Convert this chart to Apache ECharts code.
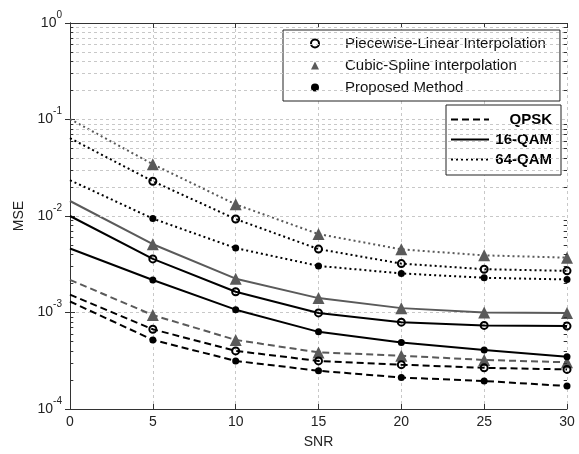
<!DOCTYPE html>
<html><head><meta charset="utf-8">
<script src="https://cdn.jsdelivr.net/npm/echarts@6/dist/echarts.min.js"></script>
<style>html,body{margin:0;padding:0;background:#fff}#c{width:579px;height:454px}</style>
</head><body><div id="c"></div>
<script>
// ---- data ----
const snr = [0, 5, 10, 15, 20, 25, 30];
const xTicks = [0, 5, 10, 15, 20, 25, 30];
const yTickExponents = [-4, -3, -2, -1, 0];
const methodNames = ['Piecewise-Linear Interpolation', 'Cubic-Spline Interpolation', 'Proposed Method'];
const modNames = ['QPSK', '16-QAM', '64-QAM'];

const qpskPL  = [0.00153, 0.00067, 0.00040, 0.000315, 0.000288, 0.000267, 0.000257];
const qpskCS  = [0.00218, 0.00094, 0.00052, 0.000386, 0.000357, 0.000322, 0.000305];
const qpskPM  = [0.00130, 0.00052, 0.000315, 0.000249, 0.000212, 0.000195, 0.000173];
const qam16PL = [0.0100, 0.00359, 0.00164, 0.00099, 0.000794, 0.000735, 0.000723];
const qam16CS = [0.0143, 0.0051, 0.00224, 0.00141, 0.00111, 0.00100, 0.00099];
const qam16PM = [0.0046, 0.00217, 0.00107, 0.00063, 0.000489, 0.000408, 0.000348];
const qam64PL = [0.064, 0.0229, 0.0093, 0.00454, 0.00321, 0.00281, 0.0027];
const qam64CS = [0.101, 0.0344, 0.0132, 0.0065, 0.00451, 0.00391, 0.0037];
const qam64PM = [0.0235, 0.0094, 0.00465, 0.00304, 0.00254, 0.00229, 0.0022];

// ---- styles ----
const FONT = '"Liberation Sans", Arial, sans-serif';
const GRAY = '#5a5a5a';
const GRID = '#c8c8c8';
const methodStyle = [
  {symbol: 'circle', size: 7, item: {color: 'rgba(0,0,0,0)', borderColor: '#000', borderWidth: 2}, color: '#000'},
  {symbol: 'triangle', size: 12, item: {color: GRAY}, color: GRAY},
  {symbol: 'circle', size: 7, item: {color: '#000'}, color: '#000'}
];
const modDash = [[7, 4], 'solid', [2, 3]];

const table = [
  [qpskPL, qpskCS, qpskPM],
  [qam16PL, qam16CS, qam16PM],
  [qam64PL, qam64CS, qam64PM]
];

const series = [];
// minor grid lines & minor ticks (log decades)
const minorVals = [];
for (let e = -4; e < 0; e++) for (let m = 2; m <= 9; m++) minorVals.push(+(m * Math.pow(10, e)).toPrecision(3));
series.push({
  type: 'line', data: [], silent: true, z: 0,
  markLine: {
    silent: true, symbol: ['none', 'none'], animation: false,
    label: {show: false},
    lineStyle: {type: [3, 3], color: GRID, width: 1},
    emphasis: {disabled: true},
    data: minorVals.map(v => ({yAxis: v}))
  }
});
series.push({
  type: 'line', data: [], silent: true, z: 3,
  markLine: {
    silent: true, symbol: ['none', 'none'], animation: false,
    label: {show: false},
    lineStyle: {type: 'solid', color: '#333', width: 1},
    emphasis: {disabled: true},
    data: minorVals.map(v => [{coord: [xTicks[0], v]}, {coord: [xTicks[0] + 0.2, v]}])
      .concat(minorVals.map(v => [{coord: [xTicks[xTicks.length - 1] - 0.2, v]}, {coord: [xTicks[xTicks.length - 1], v]}]))
  }
});

// data series: gray (cubic) first, then black
const order = [1, 0, 2];
for (let mi = 0; mi < 3; mi++) {
  for (const k of order) {
    const st = methodStyle[k];
    series.push({
      name: 's' + mi + k,
      type: 'line',
      data: snr.map((x, i) => [x, table[mi][k][i]]),
      symbol: (v, p) => (p.dataIndex === 0 ? 'none' : st.symbol),
      symbolSize: st.size,
      showAllSymbol: true,
      itemStyle: st.item,
      lineStyle: {color: st.color, width: 2, type: modDash[mi]},
      z: k === 1 ? 4 : 5,
      animation: false,
      emphasis: {disabled: true}
    });
  }
}
// legend-only series
methodNames.forEach((n, k) => {
  const st = methodStyle[k];
  series.push({name: n, type: 'line', data: [], symbol: st.symbol, itemStyle: st.item,
    lineStyle: {color: st.color, width: 0, opacity: 0}});
});
modNames.forEach((n, mi) => {
  series.push({name: n, type: 'line', data: [], symbol: 'none', itemStyle: {color: '#000'},
    lineStyle: {color: '#000', width: 2, type: modDash[mi]}});
});

const chart = echarts.init(document.getElementById('c'), null, {renderer: 'canvas'});
chart.setOption({
  animation: false,
  backgroundColor: '#fff',
  grid: {left: 70, right: 12, top: 23, bottom: 40},
  xAxis: [{
    type: 'value', min: xTicks[0], max: xTicks[xTicks.length - 1], interval: 5,
    name: 'SNR', nameLocation: 'middle', nameGap: 26,
    nameTextStyle: {fontFamily: FONT, fontSize: 14, color: '#222'},
    axisLine: {lineStyle: {color: '#333', width: 1}},
    axisTick: {inside: true, length: 5, lineStyle: {color: '#333'}},
    axisLabel: {fontFamily: FONT, fontSize: 14, color: '#222', margin: 6},
    splitLine: {show: true, lineStyle: {type: [3, 3], color: GRID}}
  }, {
    type: 'value', position: 'top', min: xTicks[0], max: xTicks[xTicks.length - 1], interval: 5,
    axisLine: {show: true, onZero: false, lineStyle: {color: '#333', width: 1}},
    axisTick: {inside: true, length: 5, lineStyle: {color: '#333'}},
    axisLabel: {show: false}, splitLine: {show: false}
  }],
  yAxis: [{
    type: 'log', logBase: 10, min: Math.pow(10, yTickExponents[0]), max: Math.pow(10, yTickExponents[yTickExponents.length - 1]),
    name: 'MSE', nameLocation: 'middle', nameGap: 41,
    nameTextStyle: {fontFamily: FONT, fontSize: 14, color: '#222'},
    axisLine: {show: true, lineStyle: {color: '#333', width: 1}},
    axisTick: {inside: true, length: 5, lineStyle: {color: '#333'}},
    axisLabel: {
      margin: 8,
      formatter: v => '{b|10}{s|' + Math.round(Math.log10(v)) + '}',
      rich: {
        b: {fontFamily: FONT, fontSize: 14, color: '#222', lineHeight: 26, verticalAlign: 'middle'},
        s: {fontFamily: FONT, fontSize: 10, color: '#222', lineHeight: 8, verticalAlign: 'top'}
      }
    },
    splitLine: {show: true, lineStyle: {type: [3, 3], color: GRID}}
  }, {
    type: 'log', logBase: 10, position: 'right', min: Math.pow(10, yTickExponents[0]), max: Math.pow(10, yTickExponents[yTickExponents.length - 1]),
    axisLine: {show: true, lineStyle: {color: '#333', width: 1}},
    axisTick: {inside: true, length: 5, lineStyle: {color: '#333'}},
    axisLabel: {show: false}, splitLine: {show: false}
  }],
  legend: [{
    data: methodNames, orient: 'vertical', left: 283, top: 30,
    selectedMode: false,
    backgroundColor: '#fff', borderColor: '#222', borderWidth: 1,
    padding: [6, 14, 6, 7],
    itemWidth: 50, itemHeight: 10, itemGap: 7,
    lineStyle: {width: 0, opacity: 0},
    textStyle: {fontFamily: FONT, fontSize: 15, color: '#111', lineHeight: 14}
  }, {
    data: modNames, orient: 'vertical', left: 446, top: 105,
    selectedMode: false,
    backgroundColor: '#fff', borderColor: '#222', borderWidth: 1,
    padding: [7, 9, 8, 4],
    itemWidth: 38, itemHeight: 14, itemGap: 5,
    itemStyle: {opacity: 0},
    formatter: n => '{a|' + n + '}',
    textStyle: {
      fontFamily: FONT, fontSize: 15, fontWeight: 'bold', color: '#000',
      rich: {a: {fontFamily: FONT, fontSize: 15, fontWeight: 'bold', color: '#000', width: 58, align: 'right', lineHeight: 14}}
    }
  }],
  series: series
});
</script>
</body></html>
